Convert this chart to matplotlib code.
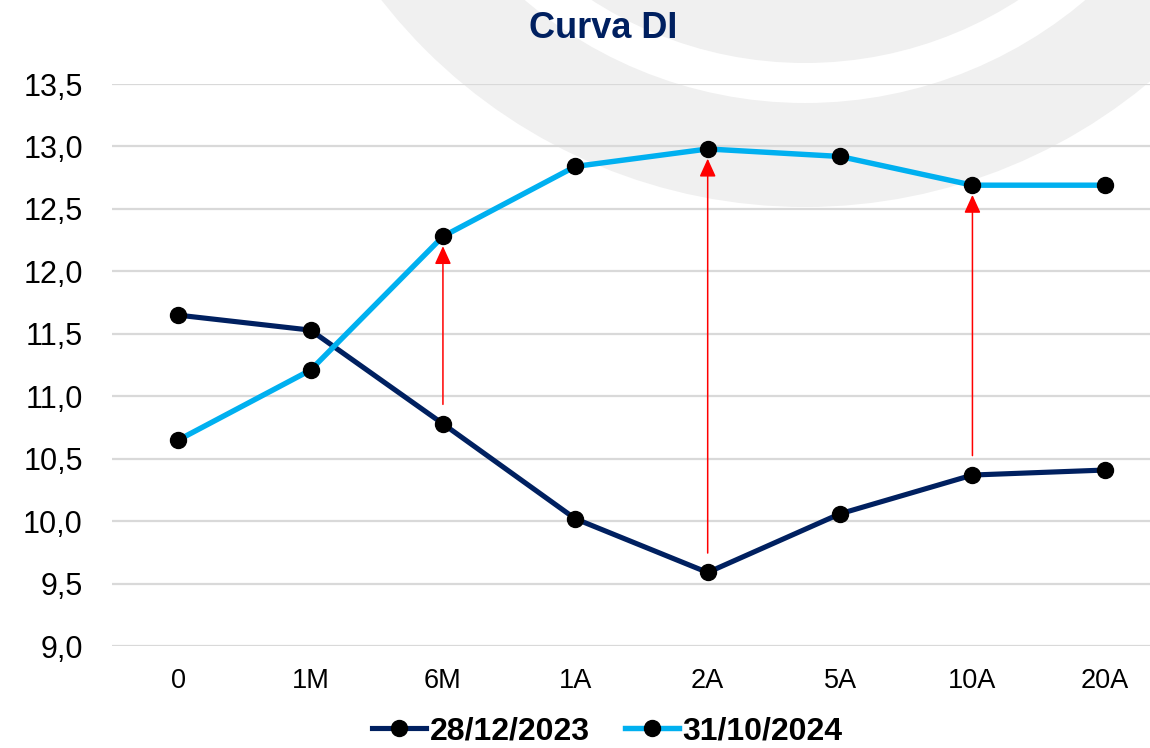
import matplotlib
matplotlib.use("Agg")
import matplotlib.pyplot as plt
from matplotlib.patches import Circle
from matplotlib.lines import Line2D

# ---- data ----
categories = ["0", "1M", "6M", "1A", "2A", "5A", "10A", "20A"]
serie_2023 = [11.65, 11.53, 10.78, 10.02, 9.59, 10.06, 10.37, 10.41]
serie_2024 = [10.65, 11.21, 12.28, 12.84, 12.98, 12.92, 12.69, 12.69]
label_2023 = "28/12/2023"
label_2024 = "31/10/2024"
arrow_categories = ["6M", "2A", "10A"]
y_ticks = [9.0, 9.5, 10.0, 10.5, 11.0, 11.5, 12.0, 12.5, 13.0, 13.5]
title = "Curva DI"

NAVY = "#002060"
LIGHT = "#00B0F0"
GRID = "#D9D9D9"
WM = "#F0F0F0"

plt.rcParams['font.family'] = ['Liberation Sans', 'DejaVu Sans']

W, H = 1150, 748
fig = plt.figure(figsize=(W / 100, H / 100), dpi=100)

# background watermark (pixel coordinates)
bg = fig.add_axes([0, 0, 1, 1], zorder=0)
bg.set_xlim(0, W)
bg.set_ylim(H, 0)
bg.axis("off")
cx, cy = 805, -330
bg.add_patch(Circle((cx, cy), 537, color=WM, lw=0))
bg.add_patch(Circle((cx, cy), 433, color="white", lw=0))
bg.add_patch(Circle((cx, cy), 393, color=WM, lw=0))

left = 112 / W
right = 1.0
bottom = 1 - 646.2 / H
top = 1 - 84 / H
ax = fig.add_axes([left, bottom, right - left, top - bottom], zorder=1)
ax.patch.set_alpha(0)

x = list(range(len(categories)))
ax.plot(x, serie_2023, color=NAVY, lw=3.7, marker="o", markersize=11.5,
        markerfacecolor="black", markeredgecolor="black", clip_on=False,
        solid_capstyle="round", zorder=3)
ax.plot(x, serie_2024, color=LIGHT, lw=3.9, marker="o", markersize=11.5,
        markerfacecolor="black", markeredgecolor="black", clip_on=False,
        solid_capstyle="round", zorder=4)

for cat in arrow_categories:
    i = categories.index(cat)
    ax.annotate("", xy=(i, serie_2024[i]), xytext=(i, serie_2023[i]),
                arrowprops=dict(arrowstyle="-|>,head_length=1.1,head_width=0.5",
                                mutation_scale=10, color="#FF0000", lw=1.1,
                                shrinkA=14, shrinkB=7),
                zorder=5)

ax.set_xlim(-0.5, (W - 178) / 132.4)
ax.set_ylim(9.0, 13.5)
ax.set_yticks(y_ticks)
ax.set_yticklabels([f"{v:.1f}".replace(".", ",") for v in y_ticks], fontsize=22)
ax.set_xticks(x)
ax.set_xticklabels(categories, fontsize=19.5)
ax.tick_params(axis="y", length=0, pad=21)
ax.tick_params(axis="x", length=0, pad=16)
ax.yaxis.grid(True, color=GRID, lw=1.6)
ax.set_axisbelow(True)
for s in ax.spines.values():
    s.set_visible(False)

fig.text(603 / W, 1 - 28 / H, title, ha="center", va="center",
         fontsize=26, fontweight="bold", color=NAVY)

handles = [
    Line2D([0], [0], color=NAVY, lw=3.7, marker="o", markersize=11.5,
           markerfacecolor="black", markeredgecolor="black"),
    Line2D([0], [0], color=LIGHT, lw=3.9, marker="o", markersize=11.5,
           markerfacecolor="black", markeredgecolor="black"),
]
fig.legend(handles, [label_2023, label_2024], loc="center",
           bbox_to_anchor=(607 / W, 1 - 731 / H), ncol=2, frameon=False,
           prop={"size": 23, "weight": "bold"}, handlelength=1.7,
           handletextpad=0.1, columnspacing=1.1, borderpad=0, borderaxespad=0)

fig.savefig("out.png", dpi=100)
